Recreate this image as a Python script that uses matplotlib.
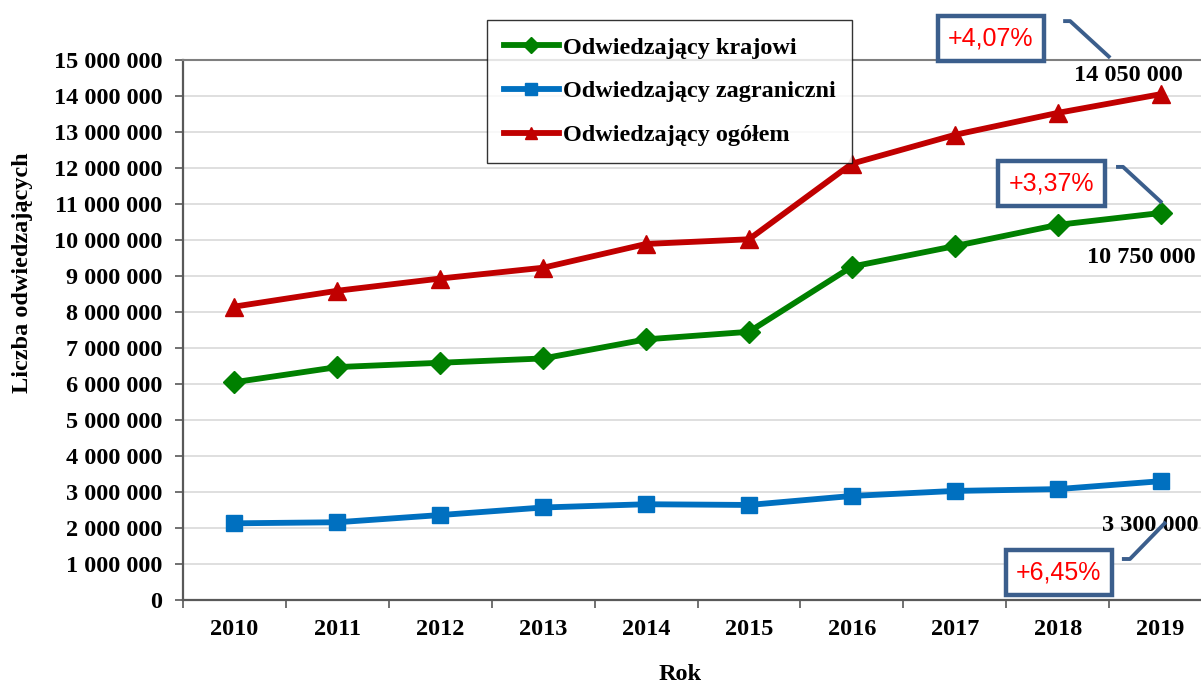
import numpy as np
import matplotlib.pyplot as plt
from matplotlib.ticker import FuncFormatter, FixedLocator

# dane
lata = ['2010', '2011', '2012', '2013', '2014', '2015', '2016', '2017', '2018', '2019']
krajowi = [6050000, 6470000, 6590000, 6710000, 7240000, 7450000, 9260000, 9830000, 10420000, 10750000]
zagraniczni = [2130000, 2160000, 2360000, 2570000, 2660000, 2640000, 2890000, 3030000, 3080000, 3300000]
ogolem = [8150000, 8590000, 8930000, 9230000, 9890000, 10020000, 12120000, 12920000, 13530000, 14050000]

nazwy = ['Odwiedzający krajowi', 'Odwiedzający zagraniczni', 'Odwiedzający ogółem']
# zmiana 2019/2018 dla: krajowi, zagraniczni, ogółem
zmiany = ['+3,37%', '+6,45%', '+4,07%']

serif = 'Liberation Serif'
sans = 'Liberation Sans'


def fmt(v, pos=None):
    return f'{int(round(v)):,}'.replace(',', ' ')


fig = plt.figure(figsize=(12.01, 6.84), dpi=100)
ax = fig.add_axes([0.1524, 0.1228, 0.8568, 0.7895])

x = np.arange(len(lata))
l1, = ax.plot(x, krajowi, color='#008000', lw=4.2, marker='D', ms=11, zorder=3)
l2, = ax.plot(x, zagraniczni, color='#0070C0', lw=4.2, marker='s', ms=12, zorder=3)
l3, = ax.plot(x, ogolem, color='#C00000', lw=4.2, marker='^', ms=13, zorder=3)

ax.set_xlim(-0.5, len(lata) - 0.5)
ax.set_ylim(0, 15000000)
ax.yaxis.set_major_locator(FixedLocator(np.arange(0, 15000001, 1000000)))
ax.yaxis.set_major_formatter(FuncFormatter(fmt))
ax.set_xticks(x)
ax.set_xticklabels(lata)
ax.set_xticks(np.arange(-0.5, len(lata)), minor=True)
ax.tick_params(axis='x', which='major', length=0, pad=14)
ax.tick_params(axis='x', which='minor', length=6, width=1.2, color='#595959', direction='out')
ax.tick_params(axis='y', length=6, width=1.2, color='#595959', direction='out', pad=9)
for lab in ax.get_xticklabels() + ax.get_yticklabels():
    lab.set_fontfamily(serif)
    lab.set_fontweight('bold')
    lab.set_fontsize(17.5)

ax.grid(axis='y', color='#dcdcdc', lw=1.3)
ax.set_axisbelow(True)
for s in ['left', 'bottom']:
    ax.spines[s].set_color('#595959')
    ax.spines[s].set_linewidth(1.6)
ax.spines['top'].set_color('#7f7f7f')
ax.spines['top'].set_linewidth(1.5)
ax.spines['right'].set_color('#808080')

ax.set_xlabel('Rok', fontfamily=serif, fontweight='bold', fontsize=17.5)
ax.set_ylabel('Liczba odwiedzających', fontfamily=serif, fontweight='bold', fontsize=17.5)
ax.xaxis.set_label_coords(0.483, -0.119)
ax.yaxis.set_label_coords(-0.1458, 0.606)

leg = fig.legend([l1, l2, l3], nazwy, loc='upper left', bbox_to_anchor=(0.4055, 0.9708),
                 prop={'family': serif, 'weight': 'bold', 'size': 17.5}, frameon=True, fancybox=False,
                 borderaxespad=0, handlelength=2.3, handletextpad=0.15, labelspacing=0.9,
                 markerscale=0.7, borderpad=0.68)
leg.get_frame().set_edgecolor('black')
leg.get_frame().set_linewidth(1.0)

# etykiety wartości końcowych
etykiety = [(8.81, 9500000, krajowi[-1]), (8.90, 2060000, zagraniczni[-1]), (8.69, 14580000, ogolem[-1])]
for ex, ey, v in etykiety:
    ax.text(ex, ey, fmt(v), ha='center', va='center', fontfamily=serif, fontweight='bold',
            fontsize=17.5, clip_on=False, zorder=4)

# ramki z procentowymi zmianami
ramki = [(7.94, 11560000), (8.01, 764000), (7.35, 15610000)]
linie = [([8.567, 8.635, 9.014], [12030000, 12030000, 11030000]),
         ([8.624, 8.702, 9.052], [1139000, 1139000, 2167000]),
         ([8.053, 8.121, 8.51], [16080000, 16080000, 15060000])]
for (bx, by), txt, (lx, ly) in zip(ramki, zmiany, linie):
    ax.text(bx, by, txt, ha='center', va='center', color='#FF0000', fontfamily=sans, fontsize=18,
            clip_on=False, zorder=5,
            bbox=dict(boxstyle='square,pad=0.42', fc='white', ec='#3B5E8C', lw=3.2))
    ax.plot(lx, ly, color='#3B5E8C', lw=2.8, clip_on=False, zorder=5, solid_capstyle='butt')

fig.savefig('out.png', dpi=100)
